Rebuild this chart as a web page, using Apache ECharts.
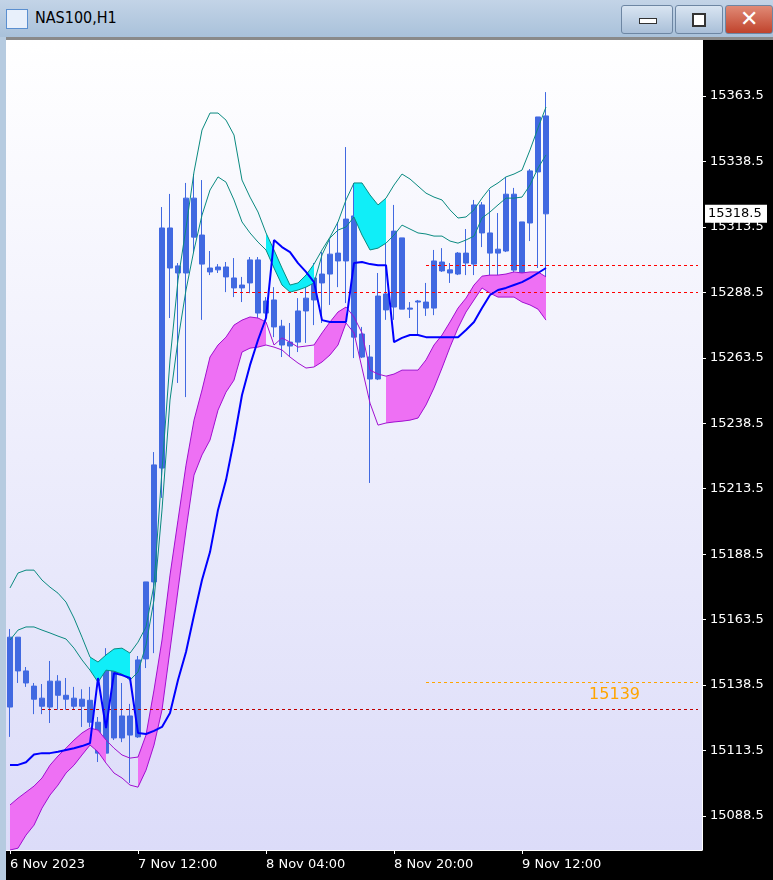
<!DOCTYPE html>
<html><head><meta charset="utf-8">
<script src="https://cdn.jsdelivr.net/npm/echarts@6/dist/echarts.min.js"></script>
<style>
html,body{margin:0;padding:0;width:773px;height:880px;overflow:hidden;background:#000;font-family:"DejaVu Sans",sans-serif}
#chart{position:absolute;left:0;top:0;width:773px;height:880px}
#bar{position:absolute;left:0;top:0;width:773px;height:37px;background:linear-gradient(#c3d4e7,#a9c1da);z-index:5}
#title{position:absolute;left:35px;top:8px;font-size:16px;color:#000;font-family:"DejaVu Sans Condensed","DejaVu Sans",sans-serif}
#icon{position:absolute;left:6px;top:9px;width:20px;height:18px;background:#e8f0fb;border:1px solid #5a8fd0}
.btn{position:absolute;top:5px;height:27px;border:1px solid #6d86a3;border-radius:3px;background:linear-gradient(#d9e5f2,#a9bfd8)}
#close{background:linear-gradient(#e08a76,#c0432c)}
#lstrip{position:absolute;left:0;top:37px;width:6px;height:843px;background:#b6cbe0;z-index:4}
#tstrip{position:absolute;left:0;top:37px;width:773px;height:3px;background:#8a8a8a;z-index:4}
</style></head><body>
<div id="chart"></div>
<div id="bar"><div id="icon"></div><div id="title">NAS100,H1</div>
<div class="btn" style="left:621px;width:50px"><div style="position:absolute;left:17px;top:12px;width:16px;height:4px;background:#fff;border:1px solid #333"></div></div>
<div class="btn" style="left:675px;width:46px"><div style="position:absolute;left:16px;top:7px;width:10px;height:10px;border:2px solid #333;background:#fff"></div></div>
<div class="btn" id="close" style="left:725px;width:46px"><div style="position:absolute;left:14px;top:0px;color:#fff;font-size:22px;font-weight:bold">✕</div></div>
</div>
<div id="tstrip"></div><div id="lstrip"></div>
<script>
const categories = [];
const startLabels = {0:'6 Nov 2023',16:'7 Nov 12:00',32:'8 Nov 04:00',48:'8 Nov 20:00',64:'9 Nov 12:00'};
(function(){const d0=new Date(Date.UTC(2023,10,6,20));const m=['Jan','Feb','Mar','Apr','May','Jun','Jul','Aug','Sep','Oct','Nov','Dec'];
for(let i=0;i<87;i++){const d=new Date(d0.getTime()+i*3600000);categories.push(d.getUTCDate()+' '+m[d.getUTCMonth()]+' '+String(d.getUTCHours()).padStart(2,'0')+':00');}})();
const priceTicks = [15088.5,15113.5,15138.5,15163.5,15188.5,15213.5,15238.5,15263.5,15288.5,15313.5,15338.5,15363.5];
// candles: [open, close, low, high]
const candles = [
[15156.8,15130.1,15118.7,15159.9],[15156.8,15143.9,15139.3,15156.8],[15143.9,15139.3,15137.8,15145.4],[15138.1,15133.1,15127.4,15139.3],
[15133.5,15130.4,15127.4,15138.9],[15140,15130.1,15124,15147.7],[15140,15134.6,15129.1,15142.3],[15134.6,15133.1,15129.1,15141.2],
[15133.5,15130.4,15129.1,15137.8],[15133.1,15130.4,15122.5,15136.9],[15132.7,15124.3,15122.5,15137.8],[15124.3,15112.5,15109.1,15126.3],
[15145.8,15112.5,15112.5,15152.6],[15145.8,15118.3,15117.5,15148.1],[15126.7,15118.3,15116.7,15139.3],[15126.7,15119.4,15101.1,15131.3],
[15148.1,15118.7,15118.3,15149.6],[15177.9,15148.5,15145,15177.9],[15222.6,15177.9,15150.7,15227.5],[15313.1,15221.4,15210,15321.1],
[15313.1,15297.8,15278.7,15326.1],[15298.6,15295.9,15253.9,15299.7],[15324.5,15295.9,15248.5,15330.3],[15324.5,15309.6,15303.5,15333.7],
[15310.4,15299.3,15278,15331.4],[15297.8,15296.3,15295.1,15304.3],[15298.2,15297.1,15295.9,15299.3],[15298.2,15294.4,15288.6,15300.1],
[15294,15290.2,15286.7,15301.6],[15291.3,15290.2,15284.8,15294.4],[15300.9,15292.1,15288.2,15302],[15300.9,15280.6,15274.9,15302],
[15285.2,15280.6,15278,15286.7],[15285.6,15275.3,15271.4,15290.5],[15275.6,15268.4,15263.8,15278],[15269.5,15268,15263.8,15276.8],
[15281.4,15269.5,15265.7,15286.3],[15286.3,15281.4,15269.2,15295.1],[15294,15285.6,15276,15299.7],[15295.5,15292.1,15276.8,15303.9],
[15303.1,15295.5,15283.7,15308.5],[15303.5,15300.5,15290.5,15315.4],[15316.5,15300.5,15284.4,15344],[15317.7,15271.4,15263.4,15330.3],
[15272.6,15263.8,15263.4,15275.3],[15263.8,15255.4,15215.7,15268.4],[15287.1,15255.4,15255,15295.9],[15287.9,15281.8,15278,15315],
[15311.9,15282.9,15278,15321.9],[15309.3,15282.1,15282.1,15309.3],[15282.5,15282.1,15278.7,15284.8],[15285.2,15284.8,15272.2,15285.6],
[15284.8,15282.5,15279.5,15292.1],[15300.5,15282.5,15279.8,15304.7],[15300.1,15296.7,15296.3,15305.4],[15297.1,15295.9,15292.1,15299.7],
[15303.5,15295.5,15295.1,15303.9],[15303.5,15299.7,15295.1,15312.7],[15321.9,15299.3,15295.1,15323.8],[15321.9,15311.2,15305.8,15323],
[15311.2,15303.5,15292.5,15327.6],[15305,15303.5,15294,15318.8],[15326,15304.3,15303.9,15332.6],[15326,15297,15294.4,15328.4],
[15315.4,15295.9,15295.9,15315.4],[15334.9,15315,15308.1,15335.6],[15355.5,15334.5,15297.8,15355.5],[15355.9,15318.5,15285.6,15365]];
const kijun = [15108,15108,15109,15112,15112.5,15112.5,15113,15113.7,15114.4,15115.2,15116.3,15141.2,15122.1,15143.1,15142.3,15141.2,
15120.2,15119.8,15121,15122.5,15127.8,15140.4,15151.1,15165.2,15178.6,15189.3,15205.4,15216.8,15232.1,15249.3,15260.7,15270.3,
15278.7,15308.5,15305.8,15303.9,15299.7,15296.3,15292.4,15277.9,15277.2,15277.2,15277.2,15299.7,15300.1,15299.3,15298.9,15298.9,
15269.5,15271.1,15272.2,15272.2,15271.4,15271.4,15271.4,15271.4,15271.4,15274.1,15277.2,15282.5,15287.5,15289.4,15290.2,15291.3,
15292.4,15294,15295.9,15297.8];
const cloudTop = [15092.7,15095.3,15097.6,15099.9,15103,15107.9,15111.4,15114.4,15117.5,15120.2,15122.1,15121.3,15117.5,15114.4,15111.8,15110.6,
15111,15119.4,15136.6,15155.7,15180.5,15201.5,15222.5,15239.7,15251.2,15263.8,15268.4,15271.4,15276,15277.9,15279.1,15278.7,
15277.2,15268.4,15271.1,15269.5,15267.6,15268,15268.4,15273,15277.2,15281,15282.9,15279.1,15273,15258.8,15257.3,15256.5,
15257.3,15258.8,15258.8,15258.8,15262.7,15268.4,15272.2,15277.2,15282.5,15286.3,15291.3,15294.7,15295.1,15295.1,15295.5,15296.3,
15295.9,15296.3,15296.3,15294.4];
const cloudBottom = [15075.5,15076.2,15081.2,15085,15091.5,15096.5,15100.3,15104.9,15107.9,15111.8,15115.6,15113,15108.7,15104.9,15103,15100.3,
15099.5,15106,15115.6,15129,15151.9,15174.8,15197.7,15218.7,15226.4,15232.1,15243.5,15250.4,15255,15265.7,15267.2,15267.6,
15268.4,15267.6,15266.5,15263.8,15261.5,15259.6,15260,15261.9,15264.6,15268.4,15276.8,15273,15259.6,15246.2,15237.8,15238.6,
15239,15239.3,15239.7,15240.5,15245.5,15252,15259.6,15267.6,15274.9,15281,15285.6,15290.2,15288.2,15286.7,15286.7,15286.7,
15284.8,15283.7,15282.1,15277.9];
const bandOuter = [15175.6,15181.3,15182.4,15182.4,15178.6,15175.9,15173.6,15170.2,15164.1,15156.8,15149.2,15147.3,15150,15152.3,15152.6,15150.7,
15154.9,15160.7,15176.7,15220.6,15262.7,15293.2,15313.1,15334.5,15350.5,15357,15357,15354.3,15348.6,15331.4,15324.9,15319.2,
15311.2,15304.7,15297.8,15291.3,15292.1,15295.1,15299.3,15304.7,15309.6,15315.4,15323.8,15330.3,15330.3,15325.7,15321.9,15324.5,
15329.5,15333.7,15331.8,15329.1,15326.4,15324.9,15323.8,15320,15316.9,15317.3,15320,15324.5,15328.4,15330.3,15332.6,15333.7,
15335.2,15342.9,15351.3,15359.3];
const bandInner = [15155.7,15159.5,15160.7,15160.7,15159.5,15158.4,15157.2,15156.1,15152.6,15148.1,15144.2,15139.6,15144.2,15143.8,15142.7,15140.4,
15143.5,15153.8,15171,15205.4,15247.4,15270.3,15289.4,15304.7,15318,15327.6,15332.6,15330.6,15323.8,15315.4,15311.2,15307.7,
15304.7,15297.8,15291.3,15288.6,15289.4,15290.5,15292.1,15302.8,15309.3,15312.3,15313.5,15317.3,15310.4,15304.7,15305.4,15307.3,
15310.4,15314.2,15312.7,15311.2,15310.8,15310,15310,15308.1,15307.3,15308.5,15310,15316.9,15319.2,15321.9,15324.5,15324.5,
15324.9,15329.5,15336,15341];
const pinkFillRanges = [[0,12],[16,32],[38,42],[47,67]];
const cyanFillRanges = [[10,15],[32,38],[43,47]];
const levels = {bid:15299, redMid:15288.5, redLow:15129.4, orange:15139.5, last:15318.5};

function inRanges(i,r){return r.some(([a,b])=>i>=a&&i<=b);}
const pinkBand = cloudTop.map((v,i)=>inRanges(i,pinkFillRanges)?+(v-cloudBottom[i]).toFixed(2):null);
const cyanBand = bandOuter.map((v,i)=>inRanges(i,cyanFillRanges)?+(v-bandInner[i]).toFixed(2):null);
const hidden = {showSymbol:false,symbol:'none',lineStyle:{opacity:0},silent:true};
const thin = c=>({type:'line',showSymbol:false,symbol:'none',silent:true,lineStyle:{color:c,width:1}});
const chart = echarts.init(document.getElementById('chart'));
chart.setOption({
 animation:false, backgroundColor:'#000',
 grid:{left:6,right:71,top:40,bottom:30,show:true,borderWidth:0,
   backgroundColor:{type:'linear',x:0,y:0,x2:0,y2:1,colorStops:[{offset:0,color:'#ffffff'},{offset:1,color:'#dcdcf9'}]}},
 xAxis:{type:'category',data:categories,boundaryGap:true,
   axisLine:{lineStyle:{color:'#fff',width:1}},axisTick:{show:true,length:4,lineStyle:{color:'#fff'},interval:(i)=>startLabels[i]!==undefined,alignWithLabel:true},
   axisLabel:{color:'#fff',fontSize:13,fontFamily:'DejaVu Sans',align:'left',margin:8,interval:0,
     formatter:(v,i)=>startLabels[i]!==undefined?startLabels[i]:''},splitLine:{show:false}},
 yAxis:{type:'value',position:'right',min:15075.5,max:15384.9,scale:true,
   axisLine:{show:true,lineStyle:{color:'#fff'}},
   axisTick:{show:true,length:4,lineStyle:{color:'#fff'},customValues:priceTicks},
   axisLabel:{color:'#fff',fontSize:13,fontFamily:'DejaVu Sans',margin:8,customValues:priceTicks,formatter:v=>v.toFixed(1)},
   splitLine:{show:false}},
 series:[
  Object.assign({type:'line',data:cloudBottom,stack:'pink',stackStrategy:'all'},hidden),
  Object.assign({type:'line',data:pinkBand,stack:'pink',stackStrategy:'all',areaStyle:{color:'#ee70f4',opacity:1}},hidden),
  Object.assign({type:'line',data:bandInner,stack:'cyan',stackStrategy:'all'},hidden),
  Object.assign({type:'line',data:cyanBand,stack:'cyan',stackStrategy:'all',areaStyle:{color:'#10eef8',opacity:1}},hidden),
  Object.assign(thin('#a010d0'),{data:cloudTop}),
  Object.assign(thin('#a010d0'),{data:cloudBottom}),
  Object.assign(thin('#0a8a80'),{data:bandOuter}),
  Object.assign(thin('#0a8a80'),{data:bandInner}),
  {type:'candlestick',data:candles,barWidth:6,silent:true,
   itemStyle:{color:'#4169e1',color0:'#4169e1',borderColor:'#4169e1',borderColor0:'#4169e1',borderWidth:1},
   markLine:{symbol:['none','none'],silent:true,animation:false,label:{show:false},
    data:[
     [{coord:[52,levels.bid],lineStyle:{color:'#ff0000',type:[3,3],width:1}},{coord:[86,levels.bid]}],
     [{coord:[28,levels.redMid],lineStyle:{color:'#ff0000',type:[3,3],width:1}},{coord:[86,levels.redMid]}],
     [{coord:[4,levels.redLow],lineStyle:{color:'#c00000',type:[3,3],width:1}},{coord:[86,levels.redLow]}],
     [{coord:[52,levels.orange],lineStyle:{color:'#ffa500',type:[3,3],width:1}},{coord:[86,levels.orange],
       label:{show:true,position:'insideEndBottom',formatter:'15139',color:'#ffa500',fontSize:16,fontFamily:'DejaVu Sans',distance:[58,4]}}]
    ]}},
  {type:'line',data:kijun,showSymbol:false,symbol:'none',silent:true,lineStyle:{color:'#0000ff',width:2},z:5}
 ]
});
const lastY = chart.convertToPixel({yAxisIndex:0}, levels.last);
chart.setOption({graphic:[
 {type:'text',left:26,top:44,style:{text:'NAS100,H1  15275.9 15265.6 15285.7 15316.5',fill:'#ffffff',font:'12px DejaVu Sans'}},
 {type:'rect',shape:{x:705,y:lastY-9,width:62,height:18},style:{fill:'#fff'},z:100},
 {type:'text',x:708,y:lastY,style:{text:levels.last.toFixed(1),fill:'#000',font:'13px DejaVu Sans',verticalAlign:'middle'},z:101}
]});
</script></body></html>
